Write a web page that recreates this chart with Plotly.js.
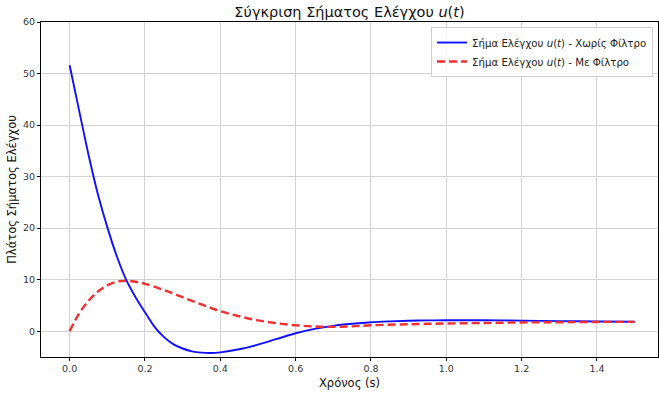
<!DOCTYPE html>
<html>
<head>
<meta charset="utf-8">
<script src="https://cdn.plot.ly/plotly-3.0.1.min.js"></script>
<style>html,body{margin:0;padding:0;background:#fff;}#chart{width:659px;height:399px;}</style>
</head>
<body>
<div id="chart"></div>
<script>
// Time samples (s)
const tBlue = [0, 0.025, 0.05, 0.075, 0.1, 0.125, 0.15, 0.175, 0.2, 0.225, 0.25, 0.275, 0.3, 0.325, 0.35, 0.375, 0.4, 0.45, 0.5, 0.55, 0.6, 0.65, 0.7, 0.75, 0.8, 0.85, 0.9, 0.95, 1.0, 1.1, 1.2, 1.3, 1.4, 1.5];
// Control signal without filter
const uNoFilter = [51.6, 42.9, 34.3, 26.6, 20.2, 14.6, 10.0, 6.6, 3.7, 0.9, -1.1, -2.5, -3.35, -3.9, -4.15, -4.22, -4.1, -3.5, -2.6, -1.5, -0.4, 0.45, 1.05, 1.45, 1.75, 1.92, 2.03, 2.1, 2.13, 2.13, 2.05, 1.97, 1.9, 1.85];

const tRed = [0, 0.025, 0.05, 0.075, 0.1, 0.125, 0.15, 0.175, 0.2, 0.25, 0.3, 0.35, 0.4, 0.45, 0.5, 0.55, 0.6, 0.65, 0.7, 0.75, 0.8, 0.9, 1.0, 1.1, 1.2, 1.3, 1.4, 1.5];
// Control signal with filter
const uFilter = [0, 3.4, 5.9, 7.7, 8.9, 9.6, 9.8, 9.6, 9.2, 8.0, 6.6, 5.2, 3.9, 2.9, 2.1, 1.55, 1.15, 0.92, 0.85, 0.95, 1.15, 1.35, 1.5, 1.6, 1.7, 1.75, 1.8, 1.82];

const xTicks = [0, 0.2, 0.4, 0.6, 0.8, 1.0, 1.2, 1.4];
const yTicks = [0, 10, 20, 30, 40, 50, 60];

const F = 'DejaVu Sans, sans-serif';

const traces = [
  {x: tBlue, y: uNoFilter, mode: 'lines', line: {color: '#1010ff', width: 1.9, shape: 'spline', smoothing: 1},
   name: 'Σήμα Ελέγχου <i>u</i>(<i>t</i>) - Χωρίς Φίλτρο'},
  {x: tRed, y: uFilter, mode: 'lines', line: {color: '#ee3030', width: 2.4, dash: '8px,4px', shape: 'spline', smoothing: 1},
   name: 'Σήμα Ελέγχου <i>u</i>(<i>t</i>) - Με Φίλτρο'}
];

const layout = {
  width: 659, height: 399,
  margin: {l: 41, r: 1, t: 22, b: 42},
  paper_bgcolor: '#fff', plot_bgcolor: '#fff',
  font: {family: F, size: 9.5, color: '#222'},
  title: {text: 'Σύγκριση Σήματος Ελέγχου <i>u</i>(<i>t</i>)', font: {family: F, size: 14.5, color: '#111'},
          xref: 'paper', x: 0.5, xanchor: 'center', y: 0.97, yanchor: 'middle'},
  xaxis: {range: [-0.076, 1.562], tickvals: xTicks, tickformat: '.1f',
          showgrid: true, gridcolor: '#d3d3d3', gridwidth: 1, zeroline: false,
          showline: true, linecolor: '#000', linewidth: 1, mirror: true,
          ticks: 'outside', ticklen: 3, tickcolor: '#000',
          tickfont: {family: F, size: 9.5, color: '#333'},
          title: {text: 'Χρόνος (s)', font: {family: F, size: 11.5, color: '#111'}, standoff: 5}},
  yaxis: {range: [-5, 60], tickvals: yTicks,
          showgrid: true, gridcolor: '#d3d3d3', gridwidth: 1, zeroline: false,
          showline: true, linecolor: '#000', linewidth: 1, mirror: true,
          ticks: 'outside', ticklen: 3, tickcolor: '#000',
          tickfont: {family: F, size: 9.5, color: '#333'},
          title: {text: 'Πλάτος Σήματος Ελέγχου', font: {family: F, size: 11.5, color: '#111'}, standoff: 3}},
  legend: {x: 0.992, xanchor: 'right', y: 0.985, yanchor: 'top',
           bgcolor: 'rgba(255,255,255,0.85)', bordercolor: '#d0d0d0', borderwidth: 1,
           font: {family: F, size: 10.2, color: '#222'}, itemwidth: 30, tracegroupgap: 2},
  showlegend: true
};

Plotly.newPlot('chart', traces, layout, {displayModeBar: false, staticPlot: true});
</script>
</body>
</html>
